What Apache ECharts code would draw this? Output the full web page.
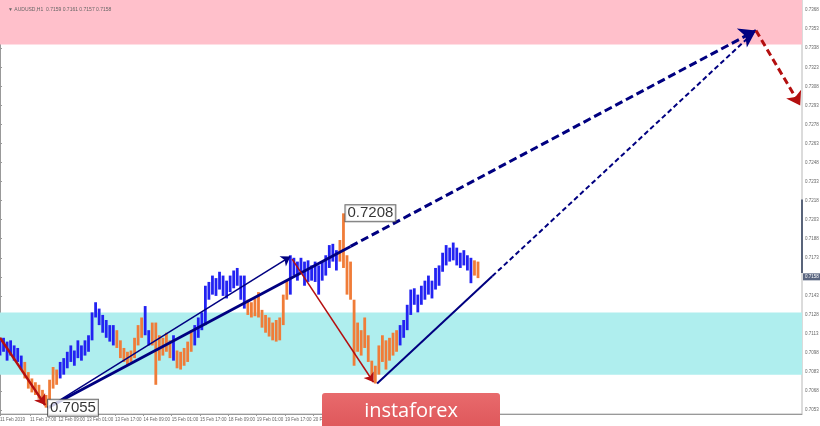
<!DOCTYPE html>
<html>
<head>
<meta charset="utf-8">
<script src="https://cdn.jsdelivr.net/npm/echarts@6/dist/echarts.min.js"></script>
<style>html,body{margin:0;padding:0;background:#fff}#c{width:820px;height:426px}</style>
</head>
<body>
<div id="c"></div>
<script>
// ---- data (AUDUSD, H1; one sample per 2 hourly bars) ----
const sampleStepHours = 2;
const highs = [
0.7108,0.7110,0.7107,0.7108,0.7104,0.7102,0.7096,0.7091,0.7083,0.7078,
0.7075,0.7073,0.7069,0.7065,0.7077,0.7087,0.7085,0.7091,0.7094,0.7099,
0.7104,0.7100,0.7108,0.7104,0.7108,0.7112,0.7130,0.7138,0.7133,0.7128,
0.7124,0.7120,0.7120,0.7116,0.7108,0.7102,0.7099,0.7100,0.7110,0.7120,
0.7126,0.7135,0.7116,0.7122,0.7122,0.7112,0.7110,0.7114,0.7108,0.7112,
0.7100,0.7099,0.7102,0.7107,0.7116,0.7120,0.7126,0.7130,0.7151,0.7154,
0.7159,0.7157,0.7162,0.7159,0.7155,0.7159,0.7163,0.7165,0.7159,0.7159,
0.7140,0.7138,0.7141,0.7146,0.7132,0.7128,0.7126,0.7122,0.7124,0.7126,
0.7144,0.7155,0.7175,0.7173,0.7170,0.7173,0.7170,0.7171,0.7167,0.7170,
0.7167,0.7170,0.7175,0.7183,0.7184,0.7179,0.7187,0.7208,0.7175,0.7170,
0.7140,0.7122,0.7116,0.7126,0.7112,0.7092,0.7088,0.7104,0.7112,0.7108,
0.7110,0.7114,0.7116,0.7120,0.7124,0.7136,0.7148,0.7149,0.7144,0.7151,
0.7155,0.7159,0.7155,0.7165,0.7167,0.7177,0.7183,0.7181,0.7185,0.7181,
0.7177,0.7179,0.7175,0.7173,0.7171,0.7170];
const lows = [
0.7096,0.7099,0.7092,0.7096,0.7092,0.7091,0.7085,0.7078,0.7070,0.7067,
0.7065,0.7062,0.7061,0.7055,0.7061,0.7070,0.7073,0.7078,0.7081,0.7086,
0.7091,0.7088,0.7094,0.7092,0.7096,0.7099,0.7108,0.7126,0.7120,0.7114,
0.7110,0.7107,0.7104,0.7102,0.7094,0.7091,0.7088,0.7091,0.7094,0.7104,
0.7110,0.7112,0.7104,0.7104,0.7073,0.7092,0.7096,0.7099,0.7094,0.7092,
0.7086,0.7085,0.7088,0.7091,0.7099,0.7104,0.7110,0.7116,0.7120,0.7140,
0.7144,0.7143,0.7148,0.7143,0.7141,0.7146,0.7149,0.7151,0.7140,0.7133,
0.7128,0.7126,0.7127,0.7126,0.7118,0.7114,0.7111,0.7108,0.7107,0.7108,
0.7120,0.7140,0.7144,0.7159,0.7155,0.7162,0.7151,0.7154,0.7155,0.7154,
0.7144,0.7155,0.7159,0.7165,0.7170,0.7163,0.7170,0.7165,0.7144,0.7140,
0.7088,0.7099,0.7096,0.7102,0.7091,0.7077,0.7074,0.7081,0.7091,0.7085,
0.7092,0.7096,0.7099,0.7104,0.7110,0.7116,0.7128,0.7136,0.7130,0.7136,
0.7140,0.7144,0.7141,0.7148,0.7151,0.7162,0.7167,0.7170,0.7171,0.7167,
0.7165,0.7167,0.7163,0.7153,0.7159,0.7157];
// wave direction per sample: B = rising wave (blue), O = falling wave (orange)
const waveDir = ('BBBBBBB'+'OOOOOOOOOO'+'BBBBBBBBBBBBBBBB'+'OOOOOOOO'+'BB'+'OOOOOO'+'B'+'OOOOO'+
  'BBBBBBBBBBBBBBB'+'OOOOOOOOOOOO'+'BBBBBBBBBBBBBB'+'OOOOOOOOOOOOOOOOO'+'BBBBBBBBBBBBBBBBBBBBB'+'OO').split('');

const yTicks = [0.7053,0.7068,0.7083,0.7098,0.7113,0.7128,0.7143,0.7158,0.7173,0.7188,0.7203,0.7218,
  0.7233,0.7248,0.7263,0.7278,0.7293,0.7308,0.7323,0.7338,0.7353,0.7368];
const xTickHours = [0,17,33,49,65,81,97,113,129,145,161,177];
const xTickLabels = ['11 Feb 2019','11 Feb 17:00','12 Feb 09:00','13 Feb 01:00','13 Feb 17:00','14 Feb 09:00',
  '15 Feb 01:00','15 Feb 17:00','18 Feb 09:00','19 Feb 01:00','19 Feb 17:00','20 Feb 09:00'];
const yRange = [0.7050, 0.7376];
const xRangeHours = [0, 453];

const resistanceZone = [0.7341, 0.7376];
const supportZone = [0.7081, 0.7130];
const lastPrice = 0.7158;
const headerText = '\u25BC AUDUSD,H1  0.7159 0.7161 0.7157 0.7158';

// wave points [hour, price]
const priorWaveStart = [0, 0.7110];
const lowA = [26, 0.7055];
const highB = [164, 0.7174];
const highC = [194, 0.7208];
const lowD = [212, 0.7074];
const targetE = [427, 0.7352];
const targetF = [452, 0.7293];
const solidUntilHour1 = 198;   // thick line solid part ends here
const solidUntilHour2 = 278;   // thin trend line solid part ends here

// ---- build ----
const bars = highs.map((h, i) => [i * sampleStepHours, lows[i], h, waveDir[i] === 'O' ? 1 : 0]);
function pointOn(a, b, hour) { const t = (hour - a[0]) / (b[0] - a[0]); return [hour, a[1] + t * (b[1] - a[1])]; }
const startA = [lowA[0] + 1, lowA[1]];
const startD = [lowD[0] + 1, lowD[1]];
const breakE1 = pointOn(startA, targetE, solidUntilHour1);
const breakE2 = pointOn(startD, targetE, solidUntilHour2);

const BLUE = '#2222f2', ORANGE = '#f07c38', NAVY = '#000080', DARKRED = '#b40f0f';
const tickMap = {}; xTickHours.forEach((h, i) => tickMap[h] = xTickLabels[i]);

const chart = echarts.init(document.getElementById('c'), null, {renderer: 'canvas'});
const lineSeries = (data, color, width, type, arrow, z) => ({
  type: 'lines', coordinateSystem: 'cartesian2d', z: z || 5, silent: true,
  symbol: ['none', arrow ? 'arrow' : 'none'], symbolSize: arrow || 0,
  lineStyle: {color: color, width: width, type: type, opacity: 1, curveness: 0},
  data: data.map(c => ({coords: c}))
});
const yAxisBase = {
  type: 'value', position: 'right', min: yRange[0], max: yRange[1], scale: true,
  splitLine: {show: false}
};
chart.setOption({
  animation: false,
  backgroundColor: '#ffffff',
  title: {text: headerText, left: 3, top: 2, textStyle: {fontSize: 5, fontWeight: 'normal', color: '#666', fontFamily: 'Liberation Sans'}},
  grid: {left: 0, right: 18, top: 0, bottom: 12, outerBoundsMode: 'none', containLabel: false,
    show: true, borderColor: '#b8b8b8', borderWidth: 1, backgroundColor: '#fff'},
  xAxis: {
    type: 'value', min: xRangeHours[0], max: xRangeHours[1],
    splitLine: {show: false},
    axisLine: {show: true, lineStyle: {color: '#999'}},
    axisTick: {show: true, length: 2, customValues: xTickHours, lineStyle: {color: '#999'}},
    axisLabel: {customValues: xTickHours, formatter: v => tickMap[v] || '', align: 'left', margin: 3,
      fontSize: 4.5, color: '#666', fontFamily: 'Liberation Sans'}
  },
  yAxis: [
    Object.assign({}, yAxisBase, {
      axisLine: {show: true, lineStyle: {color: '#999'}},
      axisTick: {show: true, length: 2, customValues: yTicks, lineStyle: {color: '#999'}},
      axisLabel: {customValues: yTicks.filter(v => v !== lastPrice), formatter: v => v.toFixed(4), margin: 3,
        fontSize: 4.5, color: '#666', fontFamily: 'Liberation Sans'}
    }),
    Object.assign({}, yAxisBase, {
      axisLine: {show: false}, axisTick: {show: false},
      axisLabel: {customValues: [lastPrice], formatter: v => v.toFixed(4), margin: 1,
        fontSize: 4.5, color: '#fff', backgroundColor: '#5a6680', padding: [1, 2], fontFamily: 'Liberation Sans'}
    })
  ],
  series: [
    {
      type: 'line', data: [], z: 0, silent: true,
      markArea: {silent: true, data: [
        [{yAxis: resistanceZone[0], itemStyle: {color: '#ffc0cb', opacity: 1}}, {yAxis: resistanceZone[1]}],
        [{yAxis: supportZone[0], itemStyle: {color: '#afeeee', opacity: 1}}, {yAxis: supportZone[1]}]
      ]}
    },
    {
      type: 'custom', z: 2, clip: true, silent: true, data: bars,
      renderItem: (params, api) => {
        const h = api.value(0), lo = api.value(1), hi = api.value(2), o = api.value(3);
        const p1 = api.coord([h, hi]), p2 = api.coord([h, lo]);
        const w = 2.8;
        return {type: 'rect', shape: {x: p1[0] - w / 2, y: p1[1], width: w, height: Math.max(1, p2[1] - p1[1])},
          style: {fill: o ? ORANGE : BLUE}};
      }
    },
    lineSeries([[[xRangeHours[1], 0.7219], [xRangeHours[1], lastPrice + 0.0003]]], '#59647a', 2, 'solid', 0, 3),
    lineSeries([[priorWaveStart, [lowA[0] - 0.5, lowA[1] + 0.0002]]], DARKRED, 2.5, 'solid', 10),
    lineSeries([[startA, highB]], NAVY, 1.5, 'solid', 9),
    lineSeries([[startA, breakE1]], NAVY, 2.8, 'solid', 0),
    lineSeries([[startD, breakE2]], NAVY, 2, 'solid', 0),
    lineSeries([[[highB[0] + 1, highB[1] - 0.0002], [lowD[0] - 1, lowD[1] + 0.0001]]], DARKRED, 1.5, 'solid', 9),
    lineSeries([[breakE1, targetE]], NAVY, 3, [8, 4], 16),
    lineSeries([[breakE2, targetE]], NAVY, 2, [5, 3], 0),
    lineSeries([[targetE, targetF]], DARKRED, 3, [7, 4], 13),
    {
      type: 'scatter', z: 10, silent: true, symbolSize: 0,
      data: [lowA, highC],
      label: {show: true, position: 'right', distance: 2, formatter: p => p.value[1].toFixed(4),
        color: '#000', fontSize: 15, fontFamily: 'Liberation Sans', backgroundColor: '#fff',
        borderColor: '#444', borderWidth: 1, padding: [1, 2, 0, 2]}
    }
  ],
  graphic: [
    {type: 'rect', z: 100, shape: {x: 322, y: 393, width: 178, height: 40, r: 3},
      style: {fill: new echarts.graphic.LinearGradient(0, 0, 0, 1, [{offset: 0, color: '#e86a6c'}, {offset: 1, color: '#dd5558'}])}},
    {type: 'text', z: 101, x: 411, y: 411, style: {text: 'instaforex', fill: '#fff', font: '20px "Open Sans"', align: 'center', verticalAlign: 'middle'}}
  ]
});
</script>
</body>
</html>
